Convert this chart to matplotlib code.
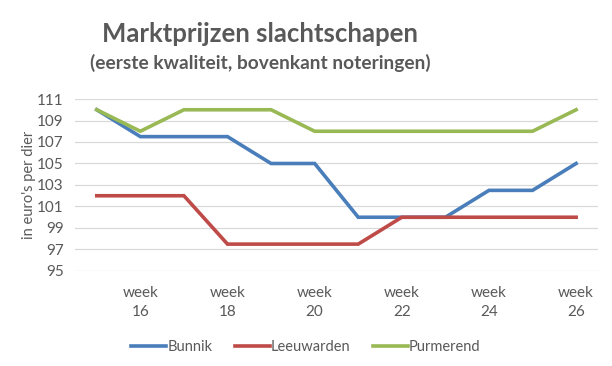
import matplotlib.pyplot as plt

# weekly prices (euro per animal)
weeks = [15, 16, 17, 18, 19, 20, 21, 22, 23, 24, 25, 26]
bunnik = [110, 107.5, 107.5, 107.5, 105, 105, 100, 100, 100, 102.5, 102.5, 105]
leeuwarden = [102, 102, 102, 97.5, 97.5, 97.5, 97.5, 100, 100, 100, 100, 100]
purmerend = [110, 108, 110, 110, 110, 108, 108, 108, 108, 108, 108, 110]
tick_weeks = [16, 18, 20, 22, 24, 26]
y_ticks = [95, 97, 99, 101, 103, 105, 107, 109, 111]

grey = '#595959'
plt.rcParams['font.family'] = ['Lato', 'DejaVu Sans']

fig = plt.figure(figsize=(6.12, 3.66), dpi=100)
ax = fig.add_axes([0.1225, 0.2596, 0.8545, 0.4699])

ax.plot(weeks, bunnik, color='#4A7EBB', lw=2.6, label='Bunnik', solid_joinstyle='miter')
ax.plot(weeks, leeuwarden, color='#BE4B48', lw=2.6, label='Leeuwarden', solid_joinstyle='miter')
ax.plot(weeks, purmerend, color='#98B954', lw=2.6, label='Purmerend', solid_joinstyle='miter')

ax.set_xlim(14.5, 26.5)
ax.set_ylim(95, 111)
ax.set_yticks(y_ticks)
ax.set_xticks(tick_weeks)
ax.set_xticklabels(['week\n%d' % w for w in tick_weeks], linespacing=1.45)
ax.grid(axis='y', color='#D9D9D9', lw=0.9)
ax.set_axisbelow(True)
for s in ax.spines.values():
    s.set_visible(False)
ax.tick_params(length=0, colors=grey, labelsize=11)
ax.tick_params(axis='x', pad=11)
ax.tick_params(axis='y', pad=8)
ax.set_ylabel("in euro's per dier", color=grey, fontsize=10.5, labelpad=1)

fig.text(0.425, 0.908, 'Marktprijzen slachtschapen', ha='center', va='center',
         fontsize=18.5, fontweight='bold', color=grey)
fig.text(0.425, 0.828, '(eerste kwaliteit, bovenkant noteringen)', ha='center', va='center',
         fontsize=13.8, fontweight='bold', color=grey)

leg = fig.legend(loc='center', bbox_to_anchor=(0.5, 0.052), ncol=3, frameon=False,
                 fontsize=10.5, handlelength=2.4, handletextpad=0.1, columnspacing=1.5)
for t in leg.get_texts():
    t.set_color(grey)

fig.savefig('out.png', dpi=100)
